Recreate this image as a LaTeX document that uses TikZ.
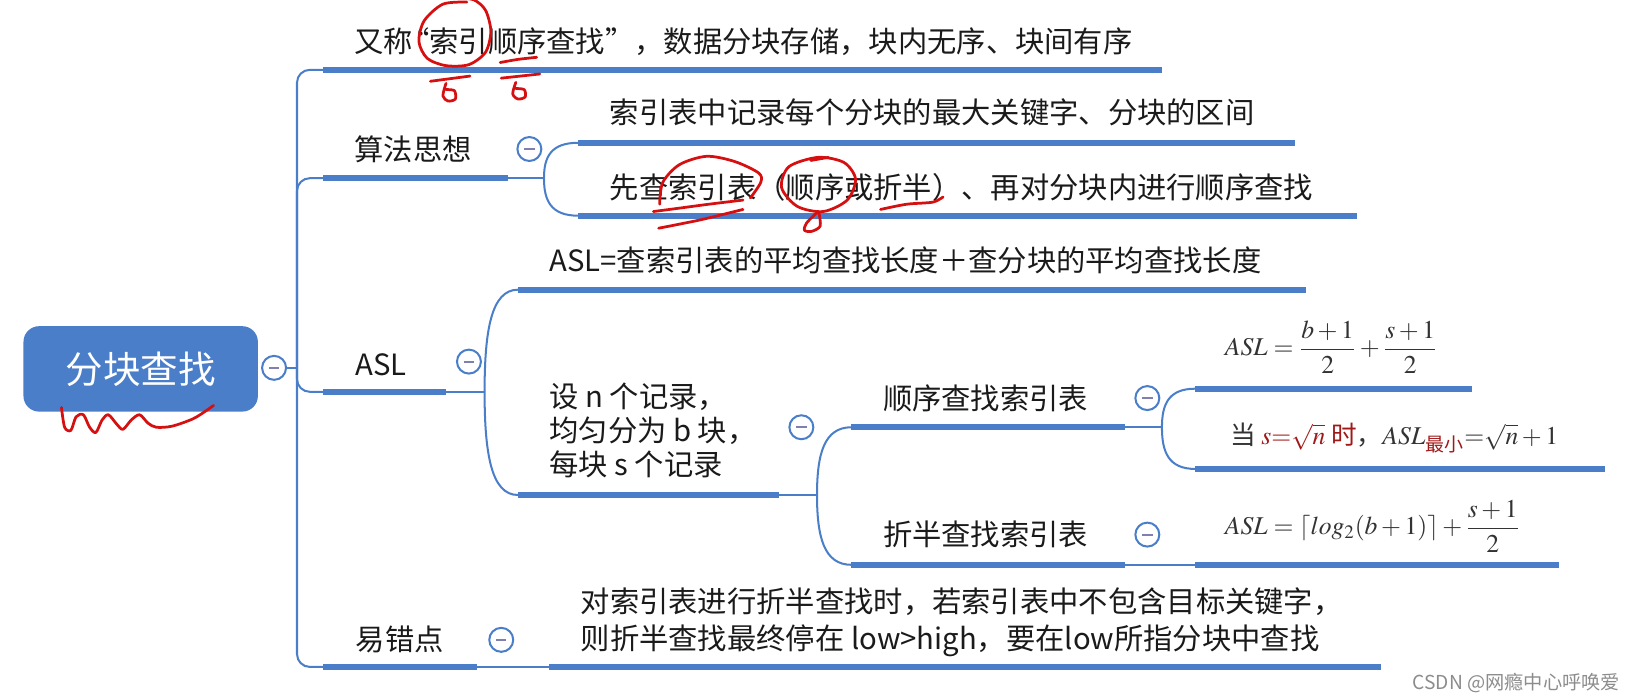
\documentclass[tikz,border=0pt]{standalone}
\usepackage{amsmath}
\usepackage{mathptmx}
\usepackage[no-math]{fontspec}
\setmainfont{Noto Sans CJK SC}
\usetikzlibrary{calc}
\definecolor{mmblue}{RGB}{74,126,200}
\definecolor{foldgray}{RGB}{128,128,176}
\definecolor{inkred}{RGB}{214,16,16}
\definecolor{dred}{RGB}{160,24,24}
\definecolor{txt}{RGB}{26,26,26}

\begin{document}
\begin{tikzpicture}[x=0.02cm,y=-0.02cm,
  bar/.style={draw=mmblue,line width=3.4pt},
  link/.style={draw=mmblue,line width=1.1pt},
  topic/.style={anchor=west,inner sep=0pt,text=txt,font=\fontsize{16}{19}\selectfont},
  formula/.style={anchor=west,inner sep=0pt,text=black!80,font=\fontsize{14}{16}\selectfont},
  fold/.style={circle,draw=mmblue,line width=1.1pt,fill=white,minimum size=0.46cm,inner sep=0pt,
    path picture={\draw[foldgray,line width=1pt]
      ([xshift=-0.1cm]path picture bounding box.center) -- ([xshift=0.1cm]path picture bounding box.center);}},
  ink/.style={draw=inkred,line width=1.5pt,line cap=round,line join=round}]
  \useasboundingbox (0,0) rectangle (1568,671);

  % root
  \node[fill=mmblue,rounded corners=0.3cm,minimum width=4.5cm,minimum height=1.64cm,
        text=white,font=\fontsize{20.5}{24}\selectfont] (root) at (135,354) {分块查找};
  \node[fold] (f0) at (263,353) {};
  \coordinate (hub) at (285,353);
  \draw[link] (f0) -- (hub);

  % first level
  \coordinate (b1s) at (310,67);  \coordinate (b1e) at (1115,67);
  \coordinate (b2s) at (310,171); \coordinate (b2e) at (487,171);
  \coordinate (b3s) at (310,376); \coordinate (b3e) at (428,376);
  \coordinate (b4s) at (310,640); \coordinate (b4e) at (458,640);
  \foreach \k in {b1s,b2s,b3s,b4s}
    \draw[link,rounded corners=7pt] (hub) |- (\k);

  % forks and sub bars
  \coordinate (k2) at (522,171);
  \coordinate (c1s) at (555,137);  \coordinate (c1e) at (1243,137);
  \coordinate (c2s) at (555,207);  \coordinate (c2e) at (1302,207);
  \coordinate (k3) at (465,376);
  \coordinate (c3s) at (497,278);  \coordinate (c3e) at (1253,278);
  \coordinate (c4s) at (497,475);  \coordinate (c4e) at (748,475);
  \coordinate (k4) at (784,475);
  \coordinate (c5s) at (817,410);  \coordinate (c5e) at (1080,410);
  \coordinate (c6s) at (817,542);  \coordinate (c6e) at (1080,542);
  \coordinate (k5) at (1115,410);
  \coordinate (c7s) at (1147,373); \coordinate (c7e) at (1413,373);
  \coordinate (c8s) at (1147,450); \coordinate (c8e) at (1540,450);
  \coordinate (c9s) at (1147,542); \coordinate (c9e) at (1496,542);
  \coordinate (c10s) at (527,640); \coordinate (c10e) at (1325,640);

  \draw[link] (b2e) -- (k2);
  \draw[link] (b3e) -- (k3);
  \draw[link] (c4e) -- (k4);
  \draw[link] (c5e) -- (k5);
  \draw[link] (c6e) -- (c9s);
  \draw[link] (b4e) -- (c10s);
  \foreach \k/\t in {k2/c1s,k2/c2s,k3/c3s,k3/c4s,k4/c5s,k4/c6s,k5/c7s,k5/c8s}
    \draw[link] (\k) .. controls ($(\k)!0.6!(\k|-\t)$) and ($(\t)!0.8!(\k|-\t)$) .. (\t);

  \foreach \k in {b1,b2,b3,b4,c1,c2,c3,c4,c5,c6,c7,c8,c9,c10}
    \draw[bar] (\k s) -- (\k e);

  % fold buttons
  \node[fold] (f1) at (508,143) {};
  \node[fold] (f2) at (450,347) {};
  \node[fold] (f3) at (769,410) {};
  \node[fold] (f4) at (1101,382) {};
  \node[fold] (f5) at (1101,513) {};
  \node[fold] (f6) at (481,614) {};

  % topics
  \node[topic] (t1) at (340,40) {又称\kern-0.45em“索引顺序查找”，数据分块存储，块内无序、块间有序};
  \node[topic] (t2) at (340,143) {算法思想};
  \node[topic] (t21) at (585,108) {索引表中记录每个分块的最大关键字、分块的区间};
  \node[topic] (t22) at (585,180) {先查索引表（顺序或折半）、再对分块内进行顺序查找};
  \node[topic] (t3) at (341,350) {ASL};
  \node[topic] (t31) at (527,250) {ASL=查索引表的平均查找长度＋查分块的平均查找长度};
  \node[topic,align=left,font=\fontsize{16}{18.4}\selectfont] (t32) at (527,413)
    {设 n 个记录，\\均匀分为 b 块，\\每块 s 个记录};
  \node[topic] (t321) at (847,382) {顺序查找索引表};
  \node[topic] (t322) at (847,513) {折半查找索引表};
  \node[formula] (e1) at (1175,333) {$ASL=\dfrac{b+1}{2}+\dfrac{s+1}{2}$};
  \node[formula] (e2) at (1180,420)
    {当 \textcolor{dred}{$s{=}\sqrt{n}$ 时}，$ASL_{\text{\textcolor{dred}{最小}}}{=}\sqrt{n}+1$};
  \node[formula] (e3) at (1175,505) {$ASL=\lceil log_2(b+1)\rceil+\dfrac{s+1}{2}$};
  \node[topic] (t4) at (341,614) {易错点};
  \node[topic,align=left,font=\fontsize{16}{20}\selectfont] (t41) at (557,597)
    {对索引表进行折半查找时，若索引表中不包含目标关键字，\\则折半查找最终停在 low>high，要在low所指分块中查找};
  \node[anchor=east,inner sep=0pt,text=black!45,font=\fontsize{10.5}{12}\selectfont] (mark)
    at (1555,655) {CSDN @网瘾中心呼唤爱};

  % red ink
  \draw[ink] plot[smooth] coordinates {(448,2) (425,4) (407,20) (402,40) (410,56) (428,63)
    (450,62) (466,50) (471,30) (466,10) (455,0) (440,-2)};
  \draw[ink] plot[smooth] coordinates {(480,60) (497,57) (515,55)};
  \draw[ink] (413,78) -- (451,73);
  \draw[ink] (481,75) -- (518,71);
  \draw[ink] plot[smooth] coordinates {(428,80) (425,92) (430,97) (437,95) (436,87) (428,86)};
  \draw[ink] plot[smooth] coordinates {(495,79) (492,90) (497,95) (504,93) (503,86) (495,85)};
  \draw[ink] plot[smooth] coordinates {(633,196) (636,175) (652,158) (678,150) (705,155)
    (728,166) (730,175) (720,190)};
  \draw[ink] plot[smooth] coordinates {(627,203) (650,200) (680,196) (713,192)};
  \draw[ink] plot[smooth] coordinates {(632,219) (672,211) (713,201)};
  \draw[ink] plot[smooth cycle] coordinates {(785,151) (810,156) (821,172) (813,192)
    (790,203) (765,198) (750,180) (757,160)};
  \draw[ink] (778,154) -- (795,151);
  \draw[ink] plot[smooth] coordinates {(785,203) (774,214) (772,221) (779,222) (787,217) (786,205)};
  \draw[ink] plot[smooth] coordinates {(845,201) (870,196) (895,194) (905,189)};
  \draw[ink] plot[smooth] coordinates {(59,391) (62,410) (68,413) (73,400) (80,398) (86,410)
    (92,415) (98,403) (104,398) (112,407) (118,412) (126,403) (134,398) (142,406)
    (150,410) (165,409) (185,402) (198,394) (205,389)};
\end{tikzpicture}
\end{document}
